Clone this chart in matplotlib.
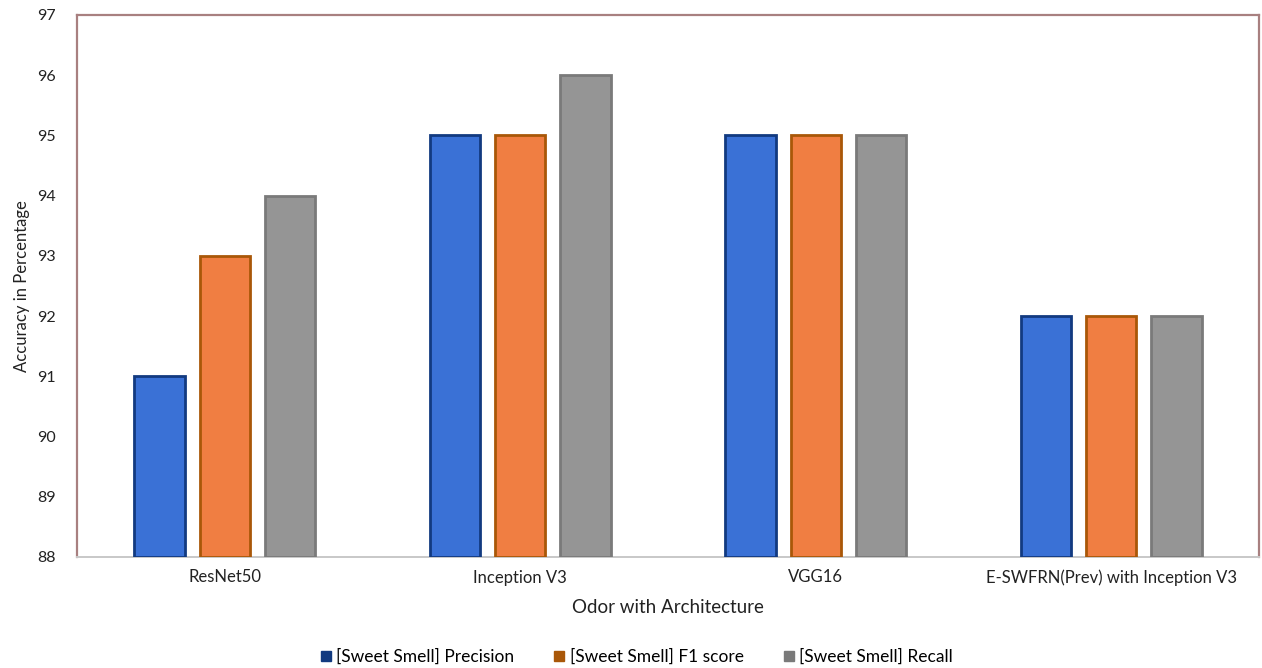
import matplotlib
matplotlib.use("Agg")
import matplotlib.pyplot as plt
import numpy as np
from matplotlib.lines import Line2D

categories = ["ResNet50", "Inception V3", "VGG16", "E-SWFRN(Prev) with Inception V3"]
precision = [91, 95, 95, 92]
f1_score = [93, 95, 95, 92]
recall = [94, 96, 95, 92]
series_names = ["[Sweet Smell] Precision", "[Sweet Smell] F1 score", "[Sweet Smell] Recall"]
y_ticks = [88, 89, 90, 91, 92, 93, 94, 95, 96, 97]

fills = ["#3a71d6", "#f07e42", "#959595"]
edges = ["#123a80", "#a95708", "#7a7a7a"]

plt.rcParams['font.family'] = ['Lato', 'DejaVu Sans']

fig = plt.figure(figsize=(12.62, 6.68), dpi=100)
ax = fig.add_axes([77 / 1262, 1 - 557 / 668, (1259 - 77) / 1262, (557 - 15) / 668])

x = np.arange(len(categories))
width = 0.17
step = 0.221
base = y_ticks[0]
for i, vals in enumerate([precision, f1_score, recall]):
    heights = [v - base for v in vals]
    ax.bar(x + (i - 1) * step, heights, width, bottom=base,
           color=fills[i], edgecolor=edges[i], linewidth=2.0, zorder=3)

ax.set_xlim(-0.5, len(categories) - 0.5)
ax.set_ylim(y_ticks[0], y_ticks[-1])
ax.set_yticks(y_ticks)
ax.set_xticks(x)
ax.set_xticklabels(categories, fontsize=12)
ax.tick_params(axis='both', length=0, colors="#222222")
ax.tick_params(axis='y', labelsize=11.5, pad=15)
ax.tick_params(axis='x', pad=9)

frame = "#a88080"
for s in ["top", "left", "right"]:
    ax.spines[s].set_color(frame)
    ax.spines[s].set_linewidth(1.6)
ax.spines["bottom"].set_color("#c8c8c8")
ax.spines["bottom"].set_linewidth(1.4)

ax.set_xlabel("Odor with Architecture", fontsize=13.5, color="#222222", labelpad=9)
ax.set_ylabel("Accuracy in Percentage", fontsize=12, color="#222222", labelpad=5)

handles = [Line2D([0], [0], marker='s', linestyle='none', markersize=7,
                  markerfacecolor=edges[i], markeredgecolor=edges[i])
           for i in range(3)]
fig.legend(handles, series_names, loc='center', bbox_to_anchor=(636 / 1262, 1 - 657 / 668),
           ncol=3, frameon=False, fontsize=12.5, handletextpad=0.2, columnspacing=2.2,
           handlelength=0.8)

fig.savefig("out.png", dpi=100, facecolor="white")
